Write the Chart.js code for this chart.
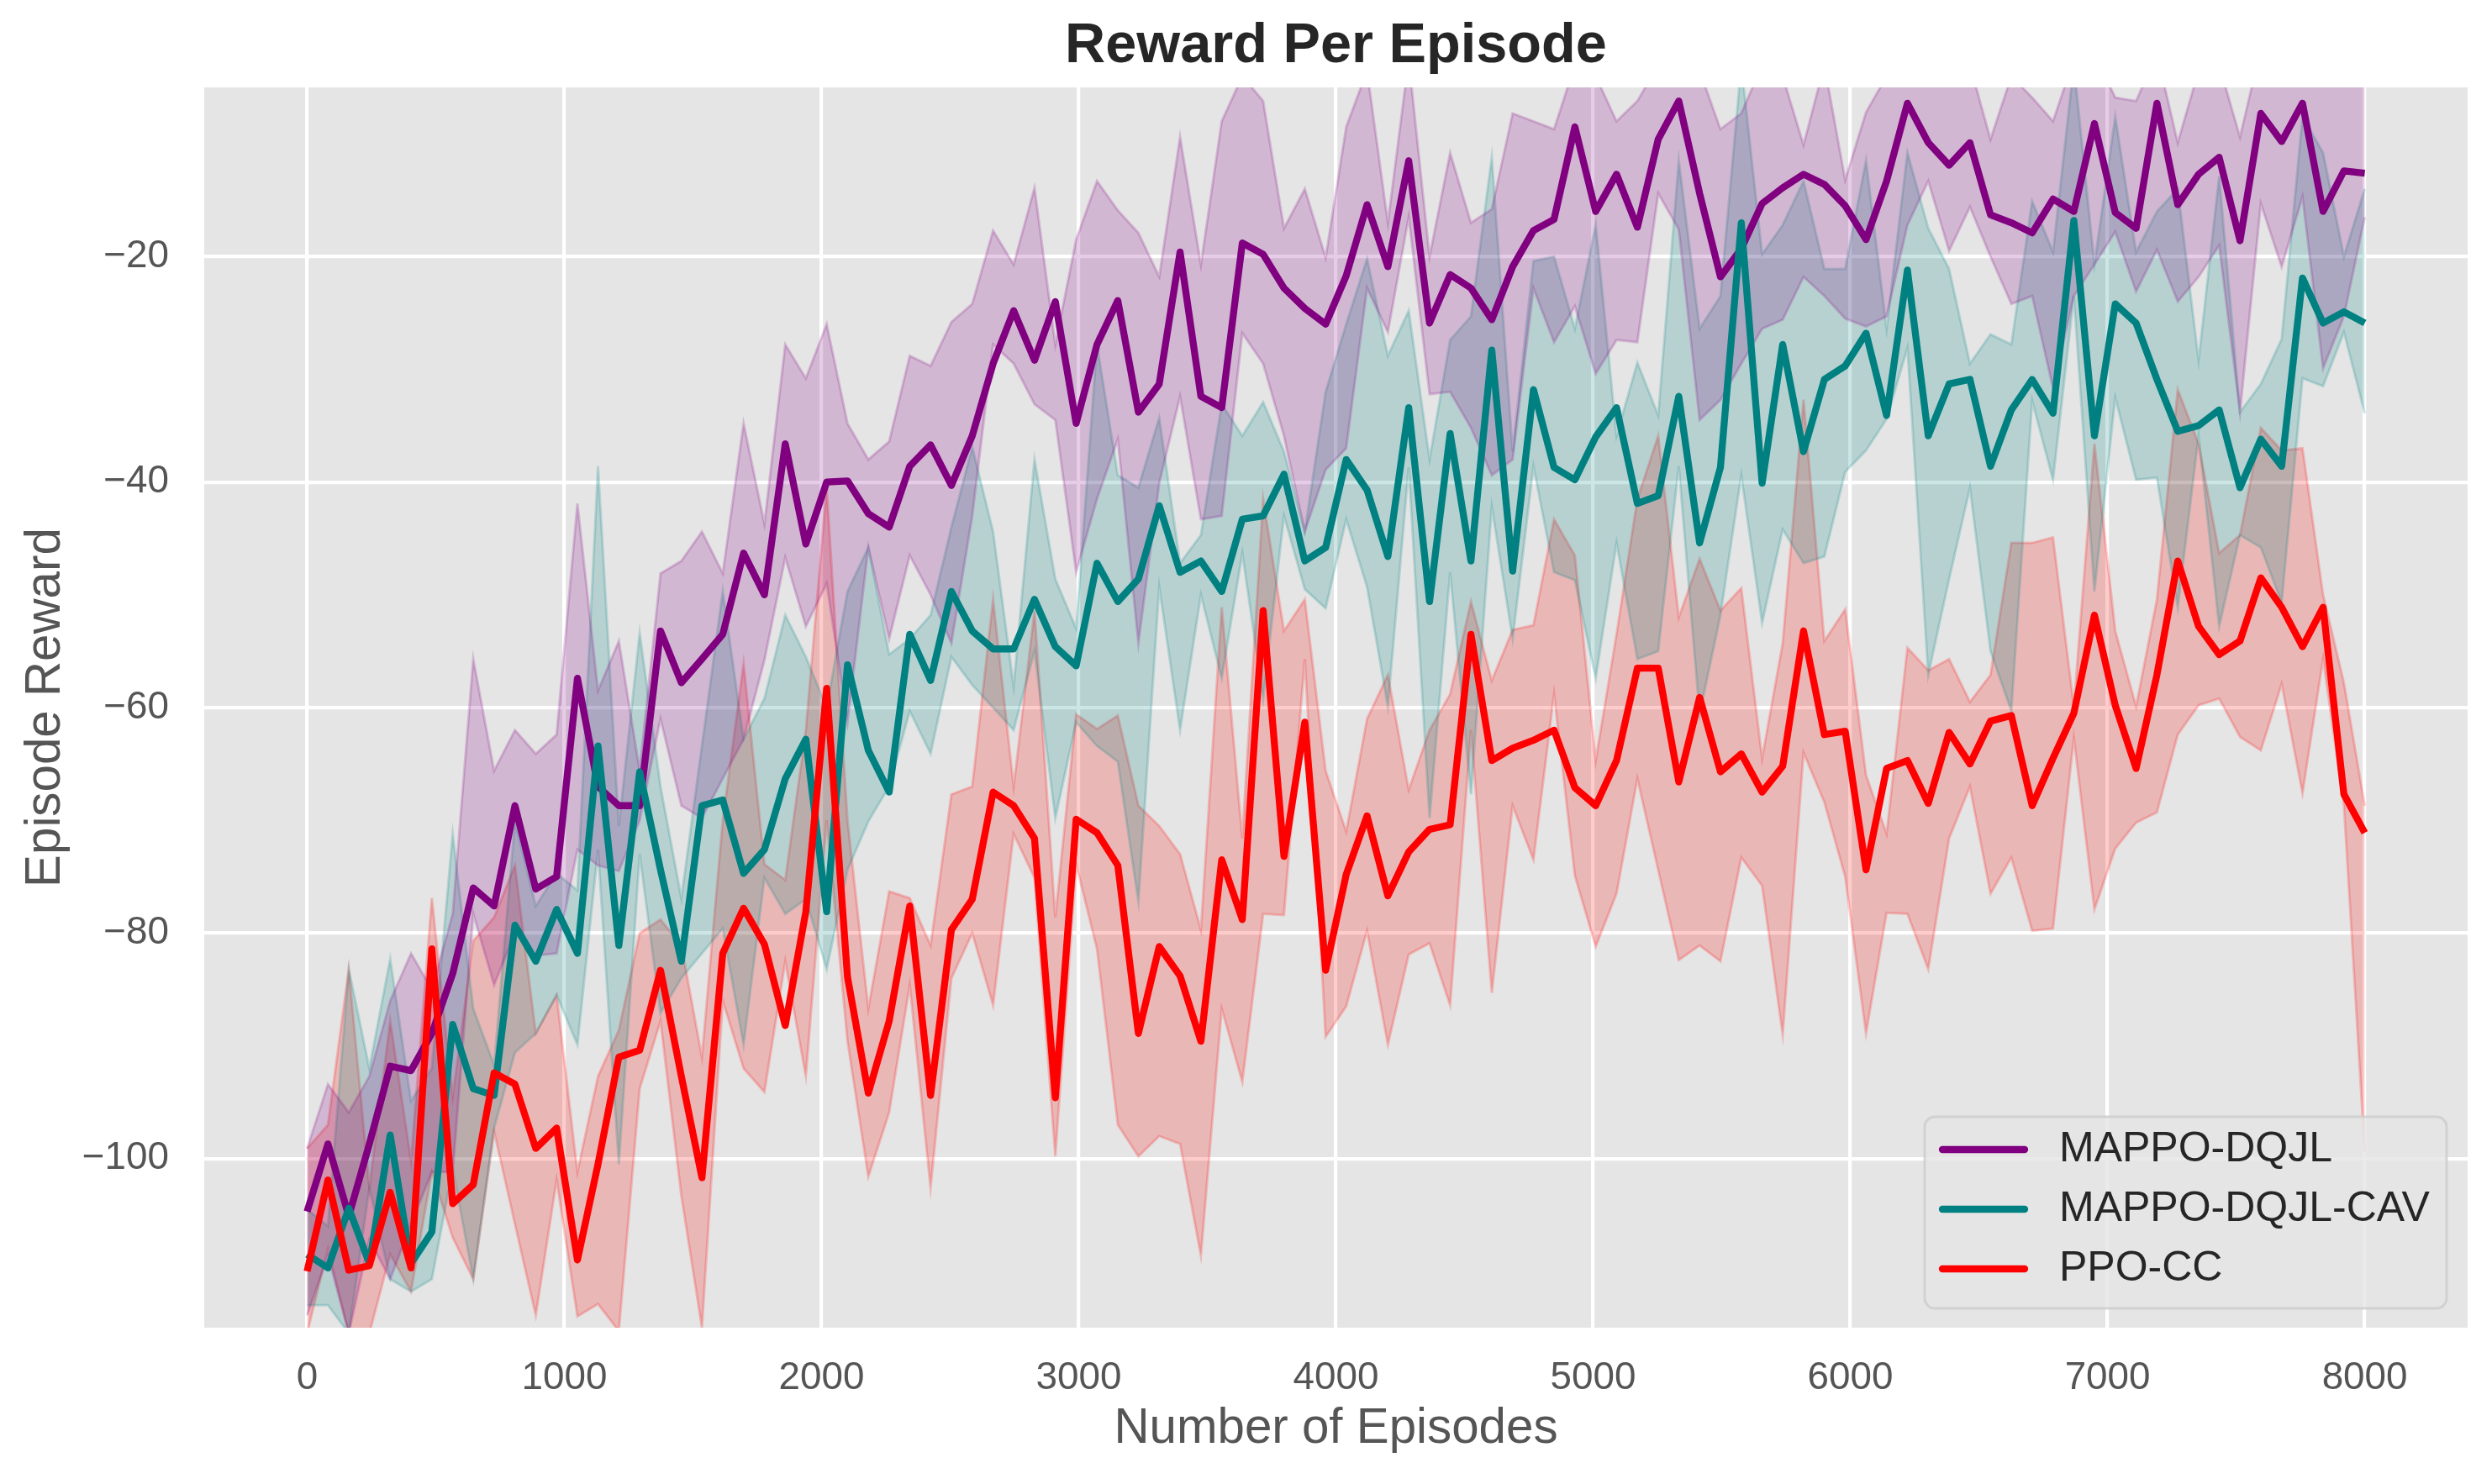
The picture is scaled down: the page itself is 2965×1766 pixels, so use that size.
<!DOCTYPE html>
<html>
<head>
<meta charset="utf-8">
<title>Reward Per Episode</title>
<script src="https://cdn.jsdelivr.net/npm/chart.js@4.4.1/dist/chart.umd.min.js"></script>
<style>
  html, body { margin: 0; padding: 0; background: #ffffff; }
  #rewardChart { display: block; }
</style>
</head>
<body>
<canvas id="rewardChart" width="2965" height="1766"></canvas>
<script>
// Episodes (x) : 100 evenly spaced points from 0 to 8000
const episodes = [
  0, 81, 162, 242, 323, 404, 485, 566, 646, 727,
  808, 889, 970, 1051, 1131, 1212, 1293, 1374, 1455, 1535,
  1616, 1697, 1778, 1859, 1939, 2020, 2101, 2182, 2263, 2343,
  2424, 2505, 2586, 2667, 2747, 2828, 2909, 2990, 3071, 3152,
  3232, 3313, 3394, 3475, 3556, 3636, 3717, 3798, 3879, 3960,
  4040, 4121, 4202, 4283, 4364, 4444, 4525, 4606, 4687, 4768,
  4848, 4929, 5010, 5091, 5172, 5253, 5333, 5414, 5495, 5576,
  5657, 5737, 5818, 5899, 5980, 6061, 6141, 6222, 6303, 6384,
  6465, 6545, 6626, 6707, 6788, 6869, 6949, 7030, 7111, 7192,
  7273, 7354, 7434, 7515, 7596, 7677, 7758, 7838, 7919, 8000
];

// MAPPO-DQJL : mean reward and shaded band
const mappoDqjl = [
  -104.7, -98.7, -105.1, -98.7, -91.8, -92.2, -88.9, -83.6, -76.0, -77.6,
  -68.7, -76.1, -75.0, -57.4, -67.0, -68.7, -68.7, -53.2, -57.8, -55.7,
  -53.5, -46.3, -50.0, -36.6, -45.5, -40.0, -39.9, -42.8, -44.0, -38.6,
  -36.7, -40.3, -35.9, -29.5, -24.8, -29.2, -24.0, -34.8, -27.8, -23.9,
  -33.8, -31.3, -19.6, -32.4, -33.4, -18.8, -19.8, -22.8, -24.6, -26.0,
  -21.7, -15.4, -20.9, -11.5, -25.9, -21.6, -22.8, -25.6, -20.9, -17.7,
  -16.7, -8.5, -16.0, -12.7, -17.4, -9.6, -6.2, -14.4, -21.8, -19.3,
  -15.3, -13.9, -12.7, -13.6, -15.5, -18.5, -13.3, -6.4, -9.9, -11.9,
  -9.9, -16.3, -17.0, -17.9, -14.9, -16.0, -8.2, -16.1, -17.5, -6.4,
  -15.4, -12.7, -11.2, -18.6, -7.3, -9.8, -6.4, -16.0, -12.4, -12.6
];
const mappoDqjlUpper = [
  -99.1, -93.4, -95.9, -92.7, -86.0, -81.8, -85.0, -78.3, -55.7, -65.6,
  -62.0, -64.1, -62.4, -41.9, -58.5, -54.1, -65.6, -48.1, -47.0, -44.4,
  -48.1, -34.8, -43.7, -27.8, -30.8, -26.0, -34.8, -38.0, -36.4, -28.8,
  -29.7, -25.8, -24.2, -17.7, -20.7, -13.9, -27.8, -18.5, -13.3, -15.9,
  -17.9, -21.8, -9.4, -20.7, -8.0, -4.0, -6.2, -17.5, -14.0, -20.1,
  -8.5, -3.5, -17.0, -2.5, -20.0, -10.8, -17.0, -15.8, -7.3, -8.0,
  -8.7, -3.0, -4.0, -8.0, -6.2, -3.0, -2.0, -3.5, -8.7, -7.3,
  -3.0, -4.0, -10.1, -3.0, -13.2, -7.2, -4.0, -3.0, -3.0, -3.5,
  -3.0, -9.6, -4.0, -5.9, -8.0, -2.5, -2.0, -5.9, -6.2, -2.0,
  -9.9, -3.5, -3.0, -9.4, -1.5, -3.0, -1.0, -3.5, -2.0, -3.0
];
const mappoDqjlLower = [
  -113.9, -108.6, -115.5, -107.2, -110.7, -105.8, -101.2, -101.2, -78.3, -84.6,
  -80.0, -82.0, -81.8, -72.6, -74.0, -74.5, -70.0, -61.0, -68.7, -69.8,
  -66.3, -62.8, -55.8, -46.7, -52.8, -49.0, -61.3, -45.8, -53.9, -46.5,
  -50.0, -54.3, -43.0, -27.8, -29.5, -33.1, -34.5, -48.0, -41.5, -36.2,
  -54.3, -40.1, -32.4, -43.3, -43.0, -26.8, -29.5, -35.9, -44.4, -38.9,
  -37.0, -22.8, -26.7, -16.5, -32.2, -32.0, -35.2, -39.4, -38.0, -22.8,
  -27.6, -24.4, -30.4, -27.4, -27.6, -14.4, -17.6, -34.5, -32.7, -29.5,
  -26.4, -25.6, -21.8, -23.5, -25.5, -26.2, -25.3, -17.2, -13.3, -19.5,
  -15.6, -20.0, -24.2, -23.5, -31.7, -23.5, -20.7, -17.8, -23.1, -19.4,
  -24.0, -21.8, -19.0, -33.8, -15.3, -20.9, -14.7, -29.9, -25.3, -16.5
];

// MAPPO-DQJL-CAV
const mappoCav = [
  -108.5, -109.7, -104.4, -109.3, -97.9, -109.3, -106.5, -88.1, -93.8, -94.4,
  -79.3, -82.5, -77.9, -81.8, -63.4, -81.1, -65.7, -74.4, -82.5, -68.7,
  -68.2, -74.7, -72.6, -66.3, -62.8, -78.1, -56.2, -63.8, -67.5, -53.5,
  -57.6, -49.7, -53.2, -54.8, -54.8, -50.4, -54.6, -56.3, -47.2, -50.6,
  -48.6, -42.1, -48.0, -47.0, -49.7, -43.3, -43.0, -39.3, -47.0, -45.8,
  -38.0, -40.7, -46.6, -33.4, -50.6, -35.7, -47.0, -28.3, -47.9, -31.8,
  -38.7, -39.8, -36.0, -33.4, -41.9, -41.2, -32.4, -45.4, -38.7, -17.0,
  -40.1, -27.8, -37.3, -30.9, -29.7, -26.8, -34.1, -21.2, -35.9, -31.3,
  -30.9, -38.6, -33.6, -30.9, -33.9, -16.8, -35.9, -24.2, -25.9, -30.9,
  -35.5, -35.0, -33.6, -40.5, -36.2, -38.6, -21.9, -25.9, -24.9, -25.9
];
const mappoCavUpper = [
  -104.5, -106.0, -83.2, -92.0, -82.3, -94.9, -92.0, -71.2, -86.7, -91.7,
  -70.1, -77.6, -74.7, -76.2, -38.6, -70.5, -53.4, -67.0, -76.9, -63.4,
  -49.7, -62.8, -59.2, -51.8, -55.5, -60.0, -49.7, -45.8, -55.3, -53.9,
  -51.8, -44.0, -36.9, -44.4, -58.1, -38.0, -48.6, -53.0, -27.8, -39.4,
  -40.5, -34.3, -47.2, -44.7, -33.1, -35.9, -32.9, -37.3, -44.4, -32.0,
  -26.0, -20.2, -28.8, -24.8, -38.0, -27.4, -25.3, -11.2, -37.3, -20.4,
  -20.0, -26.4, -17.2, -35.9, -29.4, -34.1, -11.5, -26.4, -23.5, -3.0,
  -19.8, -17.2, -13.3, -21.1, -21.1, -11.5, -26.4, -10.8, -17.5, -21.1,
  -29.5, -26.9, -27.8, -15.1, -19.6, -3.0, -20.7, -7.6, -19.6, -16.0,
  -14.0, -29.2, -12.9, -33.8, -31.3, -27.3, -7.6, -10.8, -20.0, -14.0
];
const mappoCavLower = [
  -113.0, -113.0, -115.5, -102.6, -110.7, -111.8, -110.7, -100.9, -110.7, -97.3,
  -90.6, -88.9, -85.5, -89.9, -72.6, -100.5, -73.0, -87.1, -84.0, -81.8,
  -79.6, -89.9, -75.1, -78.3, -77.0, -83.2, -74.4, -70.1, -67.0, -60.3,
  -64.1, -55.5, -58.0, -60.0, -62.0, -55.0, -69.8, -61.3, -63.4, -64.8,
  -77.2, -49.3, -62.0, -50.0, -57.4, -46.3, -59.2, -43.0, -49.5, -51.2,
  -43.3, -49.3, -59.9, -38.7, -69.8, -48.0, -67.7, -42.2, -53.9, -38.6,
  -48.0, -48.7, -57.4, -45.4, -55.7, -55.0, -38.6, -60.6, -51.8, -39.4,
  -52.5, -44.2, -47.2, -46.6, -39.1, -37.2, -34.4, -28.1, -57.1, -48.6,
  -40.5, -55.0, -60.3, -32.8, -39.8, -23.5, -49.7, -32.5, -39.8, -39.6,
  -51.1, -35.9, -52.8, -44.7, -45.8, -50.7, -30.8, -31.5, -26.7, -33.9
];

// PPO-CC
const ppoCc = [
  -110.0, -101.9, -109.9, -109.5, -103.0, -109.7, -81.4, -104.0, -102.3, -92.4,
  -93.4, -99.1, -97.3, -109.0, -100.5, -91.0, -90.4, -83.3, -92.7, -101.7,
  -81.8, -77.8, -81.0, -88.2, -78.1, -58.3, -83.9, -94.2, -87.8, -77.6,
  -94.4, -79.7, -77.0, -67.5, -68.7, -71.6, -94.6, -69.9, -71.1, -74.0,
  -88.9, -81.2, -83.8, -89.6, -73.5, -78.8, -51.4, -73.2, -61.3, -83.3,
  -74.8, -69.6, -76.7, -72.8, -70.8, -70.4, -53.5, -64.7, -63.6, -62.9,
  -62.0, -67.1, -68.7, -64.7, -56.5, -56.5, -66.6, -59.1, -65.7, -64.1,
  -67.5, -65.2, -53.2, -62.4, -62.1, -74.4, -65.4, -64.7, -68.5, -62.2,
  -65.0, -61.2, -60.7, -68.7, -64.5, -60.5, -51.8, -59.8, -65.4, -57.1,
  -47.0, -52.8, -55.3, -54.1, -48.5, -51.1, -54.6, -51.1, -67.7, -71.1
];
const ppoCcUpper = [
  -99.1, -97.0, -83.2, -102.6, -87.8, -100.2, -76.9, -94.5, -80.7, -78.6,
  -74.0, -88.9, -85.5, -101.2, -92.7, -88.6, -80.0, -78.8, -81.1, -91.0,
  -70.0, -56.1, -73.9, -75.3, -62.0, -40.5, -70.0, -86.7, -76.3, -76.9,
  -81.1, -67.7, -67.0, -50.4, -67.0, -51.4, -78.6, -60.6, -61.9, -60.7,
  -68.7, -70.5, -73.0, -79.7, -51.1, -71.6, -41.5, -53.2, -50.4, -65.6,
  -71.0, -61.0, -57.1, -67.3, -62.0, -58.8, -50.6, -57.6, -53.1, -52.7,
  -43.3, -46.5, -64.7, -53.5, -41.5, -35.9, -52.0, -46.8, -51.4, -49.4,
  -64.5, -54.3, -32.7, -54.1, -51.3, -66.0, -71.2, -54.7, -56.7, -55.7,
  -59.5, -57.1, -45.4, -45.4, -44.9, -59.9, -36.6, -53.2, -59.9, -50.4,
  -31.8, -36.6, -46.3, -44.7, -35.2, -37.2, -37.0, -50.0, -57.8, -68.7
];
const ppoCcLower = [
  -115.5, -108.0, -115.5, -115.5, -108.5, -111.8, -101.2, -107.0, -110.7, -97.6,
  -105.8, -113.9, -101.9, -114.0, -112.9, -115.3, -93.8, -87.8, -103.3, -115.0,
  -86.0, -92.0, -94.1, -82.5, -92.7, -70.0, -89.6, -101.6, -95.9, -84.6,
  -102.6, -84.0, -80.0, -86.4, -71.2, -75.1, -99.8, -73.9, -81.4, -97.0,
  -99.8, -98.0, -98.7, -108.6, -86.7, -93.2, -78.3, -78.4, -55.7, -89.2,
  -86.5, -79.8, -89.9, -81.9, -80.9, -86.4, -62.0, -85.3, -68.7, -73.5,
  -58.8, -74.9, -81.2, -76.5, -66.3, -74.4, -82.4, -81.1, -82.5, -73.3,
  -75.8, -89.0, -64.0, -68.4, -75.0, -88.9, -78.2, -78.3, -83.2, -71.6,
  -67.0, -76.5, -73.3, -79.8, -79.6, -62.7, -77.9, -72.5, -70.2, -69.3,
  -62.4, -59.8, -59.2, -62.6, -63.8, -57.9, -67.6, -55.7, -68.7, -99.4
];

// Axis ticks
const xTickValues = [0, 1000, 2000, 3000, 4000, 5000, 6000, 7000, 8000];
const yTickValues = [-100, -80, -60, -40, -20];

// Series names and colours
const seriesNames = ["MAPPO-DQJL", "MAPPO-DQJL-CAV", "PPO-CC"];
const seriesRgb = ["128, 0, 128", "0, 128, 128", "255, 0, 0"];

const FONT = '"Liberation Sans", Arial, Helvetica, sans-serif';

function toPoints(values) {
  return episodes.map((x, i) => ({ x: x, y: values[i] }));
}

function meanLine(label, values, rgb, order) {
  return {
    label: label,
    data: toPoints(values),
    borderColor: "rgb(" + rgb + ")",
    backgroundColor: "rgb(" + rgb + ")",
    borderWidth: 8.3,
    borderJoinStyle: "round",
    pointRadius: 0,
    tension: 0,
    fill: false,
    order: order
  };
}

// Upper edge followed by lower edge that fills back to it
function band(upper, lower, rgb) {
  const edge = {
    data: null,
    borderColor: "rgba(" + rgb + ", 0.2)",
    backgroundColor: "rgba(" + rgb + ", 0.2)",
    borderWidth: 3,
    pointRadius: 0,
    tension: 0,
    order: 10
  };
  return [
    Object.assign({}, edge, { label: "upper", data: toPoints(upper), fill: false }),
    Object.assign({}, edge, { label: "lower", data: toPoints(lower), fill: "-1" })
  ];
}

// Grey plot area on white figure
const plotBackground = {
  id: "plotBackground",
  beforeDraw(chart) {
    const { ctx, chartArea: a } = chart;
    ctx.save();
    ctx.fillStyle = "#ffffff";
    ctx.fillRect(0, 0, chart.width, chart.height);
    ctx.fillStyle = "#E5E5E5";
    ctx.fillRect(a.left, a.top, a.right - a.left, a.bottom - a.top);
    ctx.restore();
  }
};

// Legend in the lower right corner of the plot
const cornerLegend = {
  id: "cornerLegend",
  afterDraw(chart) {
    const ctx = chart.ctx;
    const box = { x: 2290, y: 1329, w: 621, h: 228, r: 12 };
    ctx.save();
    ctx.beginPath();
    ctx.roundRect(box.x, box.y, box.w, box.h, box.r);
    ctx.fillStyle = "rgba(229, 229, 229, 0.8)";
    ctx.fill();
    ctx.lineWidth = 3;
    ctx.strokeStyle = "rgba(204, 204, 204, 0.8)";
    ctx.stroke();

    ctx.font = "50px " + FONT;
    ctx.textBaseline = "middle";
    ctx.textAlign = "left";
    seriesNames.forEach((name, i) => {
      const y = 1368 + i * 71;
      ctx.beginPath();
      ctx.moveTo(2311, y);
      ctx.lineTo(2409, y);
      ctx.lineWidth = 8.3;
      ctx.lineCap = "round";
      ctx.strokeStyle = "rgb(" + seriesRgb[i] + ")";
      ctx.stroke();
      ctx.fillStyle = "#262626";
      ctx.fillText(name, 2450, y);
    });
    ctx.restore();
  }
};

const ctx = document.getElementById("rewardChart").getContext("2d");

new Chart(ctx, {
  type: "line",
  data: {
    datasets: [
      meanLine(seriesNames[0], mappoDqjl, seriesRgb[0], 3),
      meanLine(seriesNames[1], mappoCav, seriesRgb[1], 2),
      meanLine(seriesNames[2], ppoCc, seriesRgb[2], 1),
      ...band(mappoDqjlUpper, mappoDqjlLower, seriesRgb[0]),
      ...band(mappoCavUpper, mappoCavLower, seriesRgb[1]),
      ...band(ppoCcUpper, ppoCcLower, seriesRgb[2])
    ]
  },
  options: {
    responsive: false,
    devicePixelRatio: 1,
    animation: false,
    events: [],
    layout: { padding: { left: 0, right: 29, top: 0, bottom: 0 } },
    scales: {
      x: {
        type: "linear",
        min: -400,
        max: 8400,
        afterBuildTicks: (axis) => { axis.ticks = xTickValues.map(v => ({ value: v })); },
        afterFit: (scale) => { scale.height = 186; },
        ticks: {
          color: "#555555",
          font: { family: FONT, size: 45.8 },
          padding: 33,
          maxRotation: 0,
          autoSkip: false,
          callback: (v) => String(v)
        },
        grid: { color: "#ffffff", lineWidth: 4.2, drawTicks: false },
        border: { display: false },
        title: {
          display: true,
          text: "Number of Episodes",
          color: "#555555",
          font: { family: FONT, size: 58.3 },
          padding: { top: 0, bottom: 30 }
        }
      },
      y: {
        type: "linear",
        min: -115,
        max: -5,
        afterBuildTicks: (axis) => { axis.ticks = yTickValues.map(v => ({ value: v })); },
        afterFit: (scale) => { scale.width = 243; },
        ticks: {
          color: "#555555",
          font: { family: FONT, size: 45.8 },
          padding: 42,
          callback: (v) => (v < 0 ? "\u2212" + Math.abs(v) : String(v))
        },
        grid: { color: "#ffffff", lineWidth: 4.2, drawTicks: false },
        border: { display: false },
        title: {
          display: true,
          text: "Episode Reward",
          color: "#555555",
          font: { family: FONT, size: 58.3 },
          padding: { top: 20, bottom: 0 }
        }
      }
    },
    plugins: {
      legend: { display: false },
      tooltip: { enabled: false },
      title: {
        display: true,
        fullSize: false,
        text: "Reward Per Episode",
        color: "#262626",
        font: { family: FONT, size: 66.7, weight: "bold" },
        padding: { top: 16, bottom: 8 }
      }
    }
  },
  plugins: [plotBackground, cornerLegend]
});
</script>
</body>
</html>
